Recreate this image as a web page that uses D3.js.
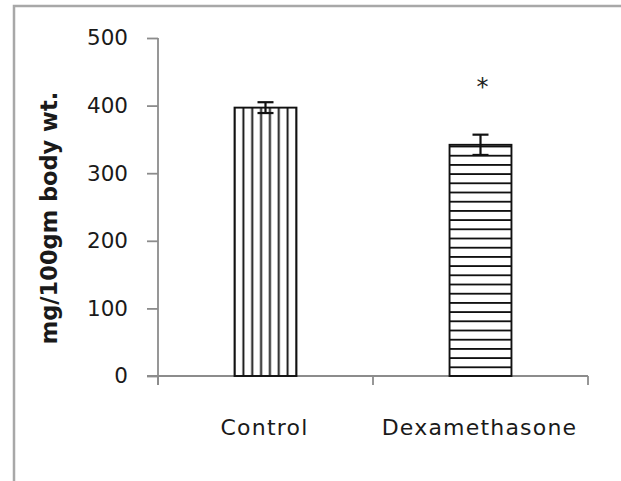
<!DOCTYPE html>
<html><head><meta charset="utf-8">
<script src="https://cdn.jsdelivr.net/npm/d3@7"></script>
<style>
html,body{margin:0;padding:0;background:#fff;}
svg{display:block;}
</style></head>
<body>
<svg id="chart" width="621" height="481"></svg>
<script>
const categories = ["Control", "Dexamethasone"];
const values = [397, 342];
const errors = [8, 15];
const significance = ["", "*"];
const yTicks = [0, 100, 200, 300, 400, 500];
const yLabel = "mg/100gm body wt.";

const svg = d3.select("#chart");
const W = 621, H = 481;

// frame
svg.append("path").attr("d", `M14,${H} L14,6 L${W},6`)
  .attr("fill", "none").attr("stroke", "#a8a8a8").attr("stroke-width", 2.5);

const y = d3.scaleLinear().domain([0, 500]).range([376, 38]);
const x = d3.scaleBand().domain(categories).range([158, 588]).padding(0);
const barW = x.bandwidth() * 0.288;

const defs = svg.append("defs");

// y axis
const yAxis = d3.axisLeft(y).tickValues(yTicks).tickSize(11).tickSizeOuter(0).tickPadding(19);
const gy = svg.append("g").attr("transform", "translate(158,0)").call(yAxis);
gy.select(".domain").remove();
gy.selectAll(".tick line").attr("stroke", "#8c8c8c").attr("stroke-width", 1.8);
gy.selectAll(".tick text").attr("font-family", "DejaVu Sans, Verdana, sans-serif")
  .attr("font-size", 21.5).attr("fill", "#1a1a1a");
svg.append("line").attr("x1", 158).attr("x2", 158).attr("y1", y(500)).attr("y2", 385)
  .attr("stroke", "#8c8c8c").attr("stroke-width", 1.8);

// x axis
svg.append("line").attr("x1", 147).attr("x2", 588).attr("y1", y(0)).attr("y2", y(0))
  .attr("stroke", "#8c8c8c").attr("stroke-width", 1.8);
const bounds = [x.range()[0]].concat(categories.map(c => x(c) + x.bandwidth()));
svg.selectAll(".xtick").data(bounds).enter().append("line")
  .attr("x1", d => d).attr("x2", d => d).attr("y1", y(0)).attr("y2", 385)
  .attr("stroke", "#8c8c8c").attr("stroke-width", 1.8);
svg.selectAll(".xlab").data(categories).enter().append("text")
  .attr("x", d => x(d) + x.bandwidth() / 2 - 1)
  .attr("y", 435)
  .attr("text-anchor", "middle")
  .attr("font-family", "DejaVu Sans, Verdana, sans-serif")
  .attr("font-size", 22).attr("letter-spacing", 1.2).attr("fill", "#1a1a1a")
  .text(d => d);

// patterns
categories.forEach((c, i) => {
  const bx = x(c) + (x.bandwidth() - barW) / 2;
  if (i === 0) {
    const step = barW / 7;
    const p = defs.append("pattern").attr("id", "pat0").attr("patternUnits", "userSpaceOnUse")
      .attr("x", bx - step / 2).attr("y", 0).attr("width", step).attr("height", 10);
    p.append("line").attr("x1", step / 2).attr("x2", step / 2).attr("y1", 0).attr("y2", 10)
      .attr("stroke", "#111").attr("stroke-width", 1.9);
  } else {
    const step = 9.2;
    const p = defs.append("pattern").attr("id", "pat1").attr("patternUnits", "userSpaceOnUse")
      .attr("x", 0).attr("y", y(0) - step / 2 + 0.5).attr("width", 10).attr("height", step);
    p.append("line").attr("x1", 0).attr("x2", 10).attr("y1", step / 2).attr("y2", step / 2)
      .attr("stroke", "#111").attr("stroke-width", 1.8);
  }
});

// bars
const barG = svg.append("g");
barG.selectAll("rect").data(categories).enter().append("rect")
  .attr("x", d => x(d) + (x.bandwidth() - barW) / 2)
  .attr("y", (d, i) => y(values[i]))
  .attr("width", barW)
  .attr("height", (d, i) => y(0) - y(values[i]))
  .attr("fill", (d, i) => `url(#pat${i})`)
  .attr("stroke", "#111").attr("stroke-width", 1.9);

// error bars
categories.forEach((c, i) => {
  const cx = x(c) + x.bandwidth() / 2;
  const top = y(values[i] + errors[i]), bot = y(values[i] - errors[i]);
  const g = svg.append("g").attr("stroke", "#111").attr("stroke-width", 2.2);
  g.append("line").attr("x1", cx).attr("x2", cx).attr("y1", top).attr("y2", bot);
  g.append("line").attr("x1", cx - 8).attr("x2", cx + 8).attr("y1", top).attr("y2", top);
  g.append("line").attr("x1", cx - 8).attr("x2", cx + 8).attr("y1", bot).attr("y2", bot);
  if (significance[i]) {
    svg.append("text").attr("x", cx + 2).attr("y", y(values[i] + errors[i]) - 40)
      .attr("text-anchor", "middle")
      .attr("font-family", "DejaVu Sans, Verdana, sans-serif")
      .attr("font-size", 24).attr("fill", "#222")
      .text(significance[i]);
  }
});

// y label
svg.append("text")
  .attr("transform", "translate(57,218) rotate(-90)")
  .attr("text-anchor", "middle")
  .attr("font-family", "DejaVu Sans, sans-serif")
  .attr("font-weight", "bold")
  .attr("font-size", 22.5).attr("fill", "#1a1a1a")
  .text(yLabel);
</script>
</body></html>
